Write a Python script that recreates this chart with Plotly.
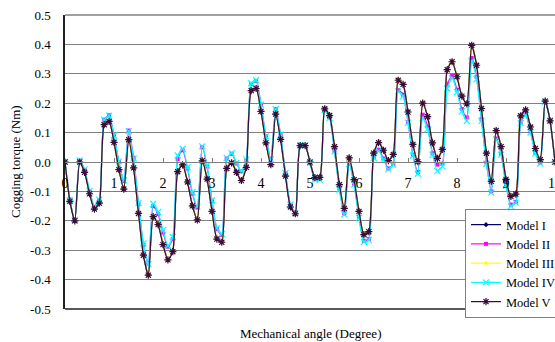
import numpy as np
import plotly.graph_objects as go

# Mechanical angle samples (degree), 0.1 degree step
angle = np.round(np.arange(0, 101) * 0.1, 1)

model_v = [0.000, -0.134, -0.200, 0.000, -0.035, -0.108, -0.160, -0.140, 0.127, 0.138,
           0.067, -0.026, -0.092, 0.076, -0.020, -0.175, -0.317, -0.385, -0.186, -0.213,
           -0.281, -0.333, -0.305, -0.033, -0.010, -0.068, -0.149, -0.197, 0.004, -0.058,
           -0.168, -0.262, -0.273, -0.022, -0.003, -0.035, -0.063, -0.018, 0.243, 0.250,
           0.172, 0.065, -0.009, 0.163, 0.077, -0.048, -0.153, -0.176, 0.056, 0.056,
           0.000, -0.053, -0.052, 0.181, 0.158, 0.052, -0.077, -0.158, 0.014, -0.060,
           -0.168, -0.247, -0.237, 0.030, 0.066, 0.040, 0.005, 0.026, 0.278, 0.264,
           0.170, 0.060, 0.001, 0.200, 0.154, 0.065, 0.012, 0.043, 0.314, 0.341,
           0.290, 0.224, 0.198, 0.397, 0.329, 0.182, 0.030, -0.066, 0.107, 0.052,
           -0.059, -0.117, -0.109, 0.157, 0.177, 0.119, 0.046, 0.008, 0.207, 0.140,
           0.000]

model_i = [0.000, -0.133, -0.199, 0.001, -0.034, -0.107, -0.159, -0.139, 0.128, 0.139,
           0.068, -0.025, -0.091, 0.077, -0.019, -0.174, -0.316, -0.383, -0.185, -0.212,
           -0.280, -0.331, -0.304, -0.032, -0.009, -0.067, -0.148, -0.196, 0.005, -0.057,
           -0.167, -0.261, -0.272, -0.021, -0.002, -0.034, -0.062, -0.017, 0.244, 0.251,
           0.173, 0.066, -0.008, 0.164, 0.078, -0.047, -0.152, -0.175, 0.057, 0.057,
           0.001, -0.052, -0.051, 0.182, 0.159, 0.053, -0.076, -0.157, 0.015, -0.059,
           -0.167, -0.246, -0.236, 0.031, 0.067, 0.041, 0.006, 0.027, 0.279, 0.265,
           0.171, 0.061, 0.002, 0.201, 0.155, 0.066, 0.013, 0.044, 0.315, 0.342,
           0.291, 0.225, 0.199, 0.398, 0.330, 0.183, 0.031, -0.065, 0.108, 0.053,
           -0.058, -0.116, -0.108, 0.158, 0.178, 0.120, 0.047, 0.009, 0.208, 0.141,
           0.000]

model_iii = [0.000, -0.132, -0.198, 0.002, -0.033, -0.106, -0.158, -0.138, 0.129, 0.140,
             0.069, -0.024, -0.090, 0.078, -0.018, -0.173, -0.315, -0.382, -0.184, -0.211,
             -0.279, -0.330, -0.303, -0.031, -0.008, -0.066, -0.147, -0.195, 0.006, -0.056,
             -0.166, -0.260, -0.271, -0.020, -0.001, -0.033, -0.061, -0.016, 0.245, 0.252,
             0.174, 0.067, -0.007, 0.165, 0.079, -0.046, -0.151, -0.174, 0.058, 0.058,
             0.002, -0.051, -0.050, 0.183, 0.160, 0.054, -0.075, -0.156, 0.016, -0.058,
             -0.166, -0.245, -0.235, 0.032, 0.068, 0.042, 0.007, 0.028, 0.280, 0.266,
             0.172, 0.062, 0.003, 0.203, 0.156, 0.067, 0.014, 0.045, 0.316, 0.343,
             0.292, 0.226, 0.200, 0.399, 0.331, 0.184, 0.032, -0.064, 0.109, 0.054,
             -0.057, -0.115, -0.107, 0.159, 0.179, 0.121, 0.048, 0.010, 0.209, 0.142,
             0.000]

model_ii = [0.000, -0.128, -0.197, 0.004, -0.027, -0.100, -0.152, -0.130, 0.144, 0.159,
            0.090, 0.000, -0.064, 0.107, 0.014, -0.143, -0.282, -0.345, -0.150, -0.177,
            -0.240, -0.288, -0.262, 0.010, 0.040, -0.022, -0.108, -0.155, 0.050, -0.015,
            -0.134, -0.228, -0.248, 0.012, 0.028, -0.005, -0.032, 0.005, 0.265, 0.276,
            0.195, 0.087, 0.010, 0.180, 0.092, -0.038, -0.146, -0.172, 0.057, 0.057,
            -0.002, -0.058, -0.058, 0.177, 0.152, 0.038, -0.090, -0.175, -0.005, -0.075,
            -0.186, -0.268, -0.262, 0.016, 0.042, 0.012, -0.022, -0.006, 0.244, 0.229,
            0.136, 0.025, -0.034, 0.161, 0.121, 0.030, -0.009, -0.006, 0.265, 0.293,
            0.246, 0.180, 0.152, 0.354, 0.289, 0.146, -0.002, -0.100, 0.080, 0.028,
            -0.076, -0.145, -0.136, 0.135, 0.162, 0.104, 0.032, -0.002, 0.206, 0.140,
            0.000]

model_iv = [0.000, -0.130, -0.198, 0.005, -0.025, -0.098, -0.150, -0.128, 0.143, 0.158,
            0.090, 0.002, -0.062, 0.105, 0.012, -0.140, -0.277, -0.347, -0.143, -0.170,
            -0.232, -0.285, -0.255, 0.022, 0.045, -0.018, -0.103, -0.152, 0.053, -0.012,
            -0.130, -0.225, -0.245, 0.014, 0.030, -0.003, -0.030, 0.008, 0.268, 0.278,
            0.195, 0.087, 0.009, 0.180, 0.093, -0.037, -0.145, -0.173, 0.057, 0.057,
            -0.003, -0.060, -0.060, 0.176, 0.150, 0.036, -0.094, -0.178, -0.007, -0.077,
            -0.190, -0.272, -0.265, 0.014, 0.038, 0.008, -0.025, -0.009, 0.240, 0.224,
            0.134, 0.022, -0.040, 0.150, 0.112, 0.024, -0.030, -0.015, 0.250, 0.285,
            0.238, 0.172, 0.140, 0.343, 0.282, 0.140, -0.006, -0.104, 0.076, 0.025,
            -0.080, -0.150, -0.138, 0.132, 0.160, 0.101, 0.029, -0.005, 0.205, 0.140,
            0.000]

series_names = ["Model I", "Model II", "Model III", "Model IV", "Model V"]
x_ticks = list(range(0, 11))
y_tickvals = [-0.5, -0.4, -0.3, -0.2, -0.1, 0.0, 0.1, 0.2, 0.3, 0.4, 0.5]
y_ticktext = ["-0.5", "-0.4", "-0.3", "-0.2", "-0.1", "0.0", "0.1", "0.2", "0.3", "0.4", "0.5"]

FONT = "'Liberation Serif', 'Times New Roman', Times, serif"

styles = [
    dict(color="#000066", symbol="diamond", size=4, lw=0),
    dict(color="#FF00FF", symbol="square", size=4, lw=0),
    dict(color="#FFFF00", symbol="triangle-up", size=5, lw=0),
    dict(color="#00FFFF", symbol="x-thin-open", size=6, lw=1.2),
    dict(color="#3a0a3a", symbol="asterisk-open", size=6, lw=1.2),
]

# Page body margin is removed (see post_script); the chart runs past the right edge
# of the window, as in the reference.
W, H = 580, 342
PL, PT, PR, PB = 65, 15, 555, 309  # plot area in page pixels
pw, ph = PR - PL, PB - PT

fig = go.Figure()
for name, vals, st in zip(series_names, [model_i, model_ii, model_iii, model_iv, model_v], styles):
    fig.add_trace(go.Scatter(
        x=angle, y=vals, name=name, mode="lines+markers",
        line=dict(color=st["color"], width=1.2, shape="spline", smoothing=0.6),
        marker=dict(symbol=st["symbol"], size=st["size"], color=st["color"],
                    line=dict(color=st["color"], width=st["lw"])),
    ))

fig.update_layout(
    width=W, height=H,
    margin=dict(l=PL, r=W - PR, t=PT, b=H - PB, autoexpand=False),
    paper_bgcolor="white", plot_bgcolor="white",
    font=dict(family=FONT, size=13, color="black"),
    showlegend=True,
    legend=dict(x=(465 - PL) / pw, y=(PB - 209) / ph, xanchor="left", yanchor="top",
                bgcolor="white", bordercolor="#808080", borderwidth=1,
                font=dict(family=FONT, size=12.5), itemwidth=30, tracegroupgap=0),
    xaxis=dict(range=[0, 10], tickvals=x_ticks, anchor="free", position=0.5,
               showgrid=False, zeroline=False, showline=True, linecolor="#808080", linewidth=1,
               ticks="inside", ticklen=4, tickcolor="#808080", ticklabeloverflow="allow",
               tickfont=dict(family=FONT, size=14), ticklabelstandoff=8),
    yaxis=dict(range=[-0.5, 0.5], tickvals=y_tickvals, ticktext=y_ticktext,
               showgrid=True, gridcolor="#808080", gridwidth=1, zeroline=False,
               showline=True, linecolor="#202020", linewidth=1.5, ticks="",
               ticklabeloverflow="allow",
               tickfont=dict(family=FONT, size=13), ticklabelstandoff=10),
    shapes=[dict(type="line", xref="paper", yref="paper", x0=0, x1=1, y0=0, y1=0,
                 line=dict(color="#202020", width=1.5)),
            dict(type="line", xref="paper", yref="paper", x0=0, x1=1, y0=1, y1=1,
                 line=dict(color="#808080", width=1.5))],
    annotations=[
        dict(text="Mechanical angle (Degree)", xref="paper", yref="paper",
             x=0.5, y=-24 / ph, xanchor="center", yanchor="middle", showarrow=False,
             font=dict(family=FONT, size=13)),
        dict(text="Cogging torque (Nm)", xref="paper", yref="paper",
             x=(15 - PL) / pw, y=0.5, xanchor="center", yanchor="middle", textangle=-90,
             showarrow=False, font=dict(family=FONT, size=13)),
    ],
)

fig.write_html(
    "out.html",
    config={"displayModeBar": False},
    post_script="document.body.style.margin='0';document.body.style.overflow='hidden';"
                "document.documentElement.style.overflow='hidden';",
)
